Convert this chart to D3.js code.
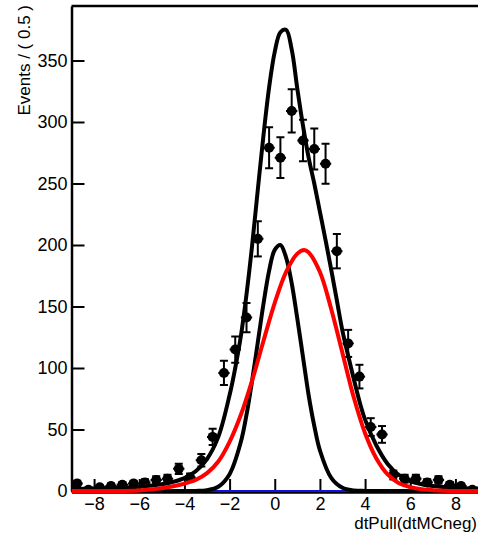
<!DOCTYPE html>
<html>
<head>
<meta charset="utf-8">
<script src="https://cdn.jsdelivr.net/npm/d3@7"></script>
<style>
  body { margin:0; background:white; }
  text { font-family:"Liberation Sans", Arial, Helvetica, sans-serif; fill:black; }
</style>
</head>
<body>
<div id="graphique"></div>
<script>
// histogram of dtPull with the fitted model and its components

// data bins (width 0.5)
var binCenters = [-8.75,-8.25,-7.75,-7.25,-6.75,-6.25,-5.75,-5.25,-4.75,-4.25,-3.75,-3.25,
                  -2.75,-2.25,-1.75,-1.25,-0.75,-0.25,0.25,0.75,1.25,1.75,2.25,2.75,
                  3.25,3.75,4.25,4.75,5.25,5.75,6.25,6.75,7.25,7.75,8.25,8.75];
var counts = [6,1,3,4,5,6,7,9,10,18,11,25,
              44,96,115,141,205,279,271,309,285,278,266,195,
              120,93,52,46,13,10,10,7,9,5,4,1];
var errors = [2.4,1,1.7,2,2.2,2.4,2.6,3,3.2,4.2,3.3,5,
              6.6,9.8,10.7,11.9,14.3,16.7,16.5,17.6,16.9,16.7,16.3,14,
              11,9.6,7.2,6.8,3.6,3.2,3.2,2.6,3,2.2,2,1];

// full model (black)
var totalX = [-9,-8,-7,-6,-5,-4.5,-4,-3.5,-3,-2.5,-2,-1.75,-1.5,-1.25,-1,-0.75,-0.5,-0.25,
              0,0.25,0.5,0.75,1,1.25,1.5,1.75,2,2.25,2.5,2.75,3,3.25,3.5,3.75,4,4.5,5,5.5,6,6.5,7,8,9];
var totalY = [1.5,2,2.5,3.5,5.5,7.5,10.5,16,26,44,78,100,126,160,200,245,289,328,
              357,373,375,359,327,297,271,250,227,204,180,155,130,110,91,73,58,37,22,13,8,5.5,4,2.5,2];

// narrow component (black)
var narrowX = [-9,-5,-4,-3.5,-3,-2.5,-2,-1.5,-1.25,-1,-0.75,-0.5,-0.25,0,0.25,0.5,0.75,1,1.25,1.5,1.75,2,2.5,3,3.5,4,5,9];
var narrowY = [0,0,0,0.1,0.7,3.5,13.7,40,62,90,121,152,179,196,200,190,169,140,109,78,53,33,10.7,2.6,0.5,0.1,0,0];

// wide component (red)
var wideX = [-9,-7,-6,-5.5,-5,-4.5,-4,-3.5,-3,-2.5,-2,-1.5,-1,-0.5,0,0.5,1,1.3,1.5,2,2.5,3,3.5,4,4.5,5,5.5,6,6.5,7,7.5,8,9];
var wideY = [0,0,0.5,1.2,2.2,3.8,6,9,14.5,24,40,62,90,122,153,178,193,196,194,178,148,112,76,47,26.5,13.5,6.3,3.2,1.5,0.7,0.3,0.1,0];

// flat component (blue)
var flatX = [-9,9];
var flatY = [0,0];

var yMajor = [0,50,100,150,200,250,300,350];
var xMajor = [-8,-6,-4,-2,0,2,4,6,8];

var width=478, height=535;
var frameL=71.5, frameR=478, frameT=6, frameB=491;

var x = d3.scaleLinear().domain([-9,9]).range([frameL,frameR]);
var y = d3.scaleLinear().domain([0,394.3]).range([frameB,frameT]);

var svg = d3.select("#graphique").append("svg")
    .attr("width",width).attr("height",height);

svg.append("clipPath").attr("id","frameclip")
   .append("rect")
   .attr("x",frameL).attr("y",frameT)
   .attr("width",frameR-frameL).attr("height",frameB-frameT+2);

// axes
var yMinor = d3.range(0,395,10).filter(v=>v%50!=0);
var xMinor = d3.range(-9,9.01,0.5).filter(v=>v%2!=0);

var ga = svg.append("g").attr("transform","translate("+frameL+",0)");
ga.call(d3.axisLeft(y).tickValues(yMinor).tickSize(-8).tickSizeOuter(0).tickFormat(""));
ga.call(d3.axisLeft(y).tickValues(yMajor).tickSize(-13).tickSizeOuter(0).tickPadding(4));
ga.selectAll("text").style("font-size","18px");

var gb = svg.append("g").attr("transform","translate(0,"+(frameB+1)+")");
gb.call(d3.axisBottom(x).tickValues(xMinor).tickSize(-7).tickSizeOuter(0).tickFormat(""));
gb.call(d3.axisBottom(x).tickValues(xMajor).tickSize(-13).tickSizeOuter(0).tickPadding(5));
gb.selectAll("text").style("font-size","18px");

svg.selectAll(".domain").attr("stroke","black").attr("stroke-width",2.5);
svg.selectAll(".tick line").attr("stroke","black").attr("stroke-width",2);

// top border
svg.append("line")
   .attr("x1",frameL).attr("x2",frameR)
   .attr("y1",frameT).attr("y2",frameT)
   .attr("stroke","black").attr("stroke-width",2.5);

var plot = svg.append("g").attr("clip-path","url(#frameclip)");

// data points with error bars
for (var i = 0; i < binCenters.length; i++) {
    var cx=x(binCenters[i]), cy=y(counts[i]);
    var hi=y(counts[i]+errors[i]), lo=y(counts[i]-errors[i]);
    var g=plot.append("g").attr("stroke","black").attr("stroke-width",2);
    g.append("line").attr("x1",x(binCenters[i]-0.25)).attr("x2",x(binCenters[i]+0.25))
        .attr("y1",cy).attr("y2",cy);
    g.append("line").attr("x1",cx).attr("x2",cx).attr("y1",hi).attr("y2",lo);
    g.append("line").attr("x1",cx-4).attr("x2",cx+4).attr("y1",hi).attr("y2",hi);
    g.append("line").attr("x1",cx-4).attr("x2",cx+4).attr("y1",lo).attr("y2",lo);
    g.append("circle").attr("cx",cx).attr("cy",cy).attr("r",5)
        .attr("fill","black").attr("stroke","none");
}

function curvePath(xs,ys){
    var line=d3.line()
        .x(function(d){return x(d[0]);})
        .y(function(d){return y(d[1]);})
        .curve(d3.curveCatmullRom.alpha(0.5));
    return line(xs.map(function(v,i){return [v,ys[i]];}));
}

plot.append("path").attr("d",curvePath(flatX,flatY))
    .attr("fill","none").attr("stroke","#1010e0").attr("stroke-width",2);
plot.append("path").attr("d",curvePath(totalX,totalY))
    .attr("fill","none").attr("stroke","black").attr("stroke-width",4);
plot.append("path").attr("d",curvePath(narrowX,narrowY))
    .attr("fill","none").attr("stroke","black").attr("stroke-width",4);
plot.append("path").attr("d",curvePath(wideX,wideY))
    .attr("fill","none").attr("stroke","#ff0000").attr("stroke-width",4);

// axis titles
svg.append("text")
   .attr("transform","translate(30,5) rotate(-90)")
   .attr("text-anchor","end")
   .style("font-size","17px")
   .text("Events / ( 0.5 )");

svg.append("text")
   .attr("x",477).attr("y",529)
   .attr("text-anchor","end")
   .style("font-size","17px")
   .text("dtPull(dtMCneg)");
</script>
</body>
</html>
